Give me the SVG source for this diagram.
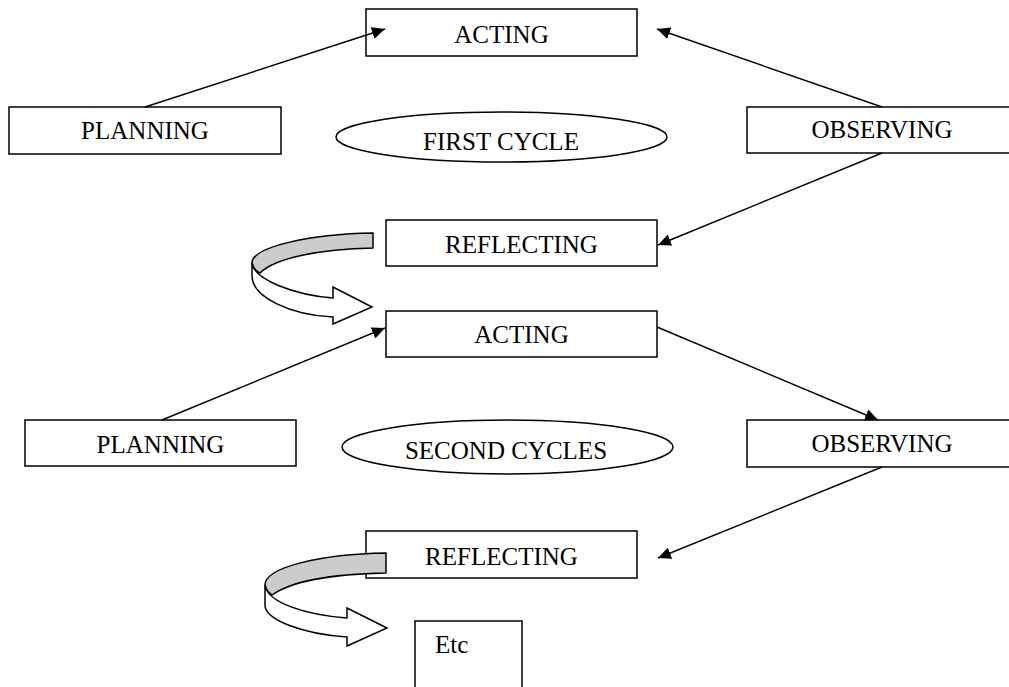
<svg xmlns="http://www.w3.org/2000/svg" width="1009" height="687" viewBox="0 0 1009 687">
<style>
.box{fill:#fff;stroke:#000;stroke-width:1.5}
.ell{fill:#fff;stroke:#000;stroke-width:1.5}
.lbl{font-family:"Liberation Serif","Times New Roman",serif;font-size:25px;fill:#000;text-anchor:middle}
.con{fill:none;stroke:#000;stroke-width:1.4;marker-end:url(#ah)}
.back{fill:#cccccc;stroke:#000;stroke-width:1.5;stroke-linejoin:round}
.front{fill:#fff;stroke:#000;stroke-width:1.5;stroke-linejoin:miter}
</style>
<defs>
<marker id="ah" markerUnits="userSpaceOnUse" markerWidth="14" markerHeight="12" refX="13" refY="6" orient="auto">
<path d="M0,0 L13,6 L0,12 Z" fill="#000"/>
</marker>
</defs>
<rect width="1009" height="687" fill="#fff"/>
<g id="acting1"><rect class="box" x="366" y="9" width="271" height="47"/><text class="lbl" x="501.5" y="43">ACTING</text></g>
<g id="planning1"><rect class="box" x="9" y="107" width="272" height="47"/><text class="lbl" x="145" y="139">PLANNING</text></g>
<g id="observing1"><rect class="box" x="747" y="107" width="271" height="46"/><text class="lbl" x="882" y="138">OBSERVING</text></g>
<g id="firstcycle"><ellipse class="ell" cx="501.5" cy="137" rx="165.5" ry="25"/><text class="lbl" x="501" y="150">FIRST CYCLE</text></g>
<g id="reflecting1"><rect class="box" x="386" y="220" width="271" height="46"/><text class="lbl" x="521.5" y="253">REFLECTING</text></g>
<g id="acting2"><rect class="box" x="386" y="311" width="271" height="46"/><text class="lbl" x="521.5" y="343">ACTING</text></g>
<g id="planning2"><rect class="box" x="25" y="420" width="271" height="46"/><text class="lbl" x="160.5" y="453">PLANNING</text></g>
<g id="secondcycles"><ellipse class="ell" cx="507.5" cy="447" rx="165.5" ry="27"/><text class="lbl" x="506" y="459">SECOND CYCLES</text></g>
<g id="observing2"><rect class="box" x="747" y="420" width="271" height="47"/><text class="lbl" x="882" y="452">OBSERVING</text></g>
<g id="reflecting2"><rect class="box" x="366" y="531" width="271" height="47"/><text class="lbl" x="501.5" y="565">REFLECTING</text></g>
<g id="etc"><rect class="box" x="415" y="621" width="107" height="75"/><text class="lbl" x="435" y="653" style="text-anchor:start">Etc</text></g>
<g id="curved-arrow-1">
<path class="back" d="M373,233 C310,234 252,247 252,263 C253,268 256,271 260,273 C275,258 320,249 373,248 Z"/>
<path class="front" d="M252,263 C254,280 295,295 333,298 L333,287 L372,307 L333,324 L333,317 C290,315 252,297 252,276 Z"/>
</g>
<g id="curved-arrow-2">
<path class="back" d="M386,553 C322,554 265,567 265,585 C266,590 269,593 272,595 C290,582 330,574 386,573 Z"/>
<path class="front" d="M265,585 C267,603 307,615 347,618 L347,608 L387,628 L347,646 L347,637 C303,634 265,620 265,605 Z"/>
</g>
<g id="connectors">
<line class="con" x1="145" y1="107" x2="385" y2="29"/>
<line class="con" x1="882" y1="107" x2="657" y2="29"/>
<line class="con" x1="882" y1="153" x2="658" y2="245"/>
<line class="con" x1="162" y1="420" x2="385" y2="328"/>
<line class="con" x1="657" y1="327" x2="878" y2="420"/>
<line class="con" x1="882" y1="467" x2="658" y2="558"/>
</g>
</svg>
